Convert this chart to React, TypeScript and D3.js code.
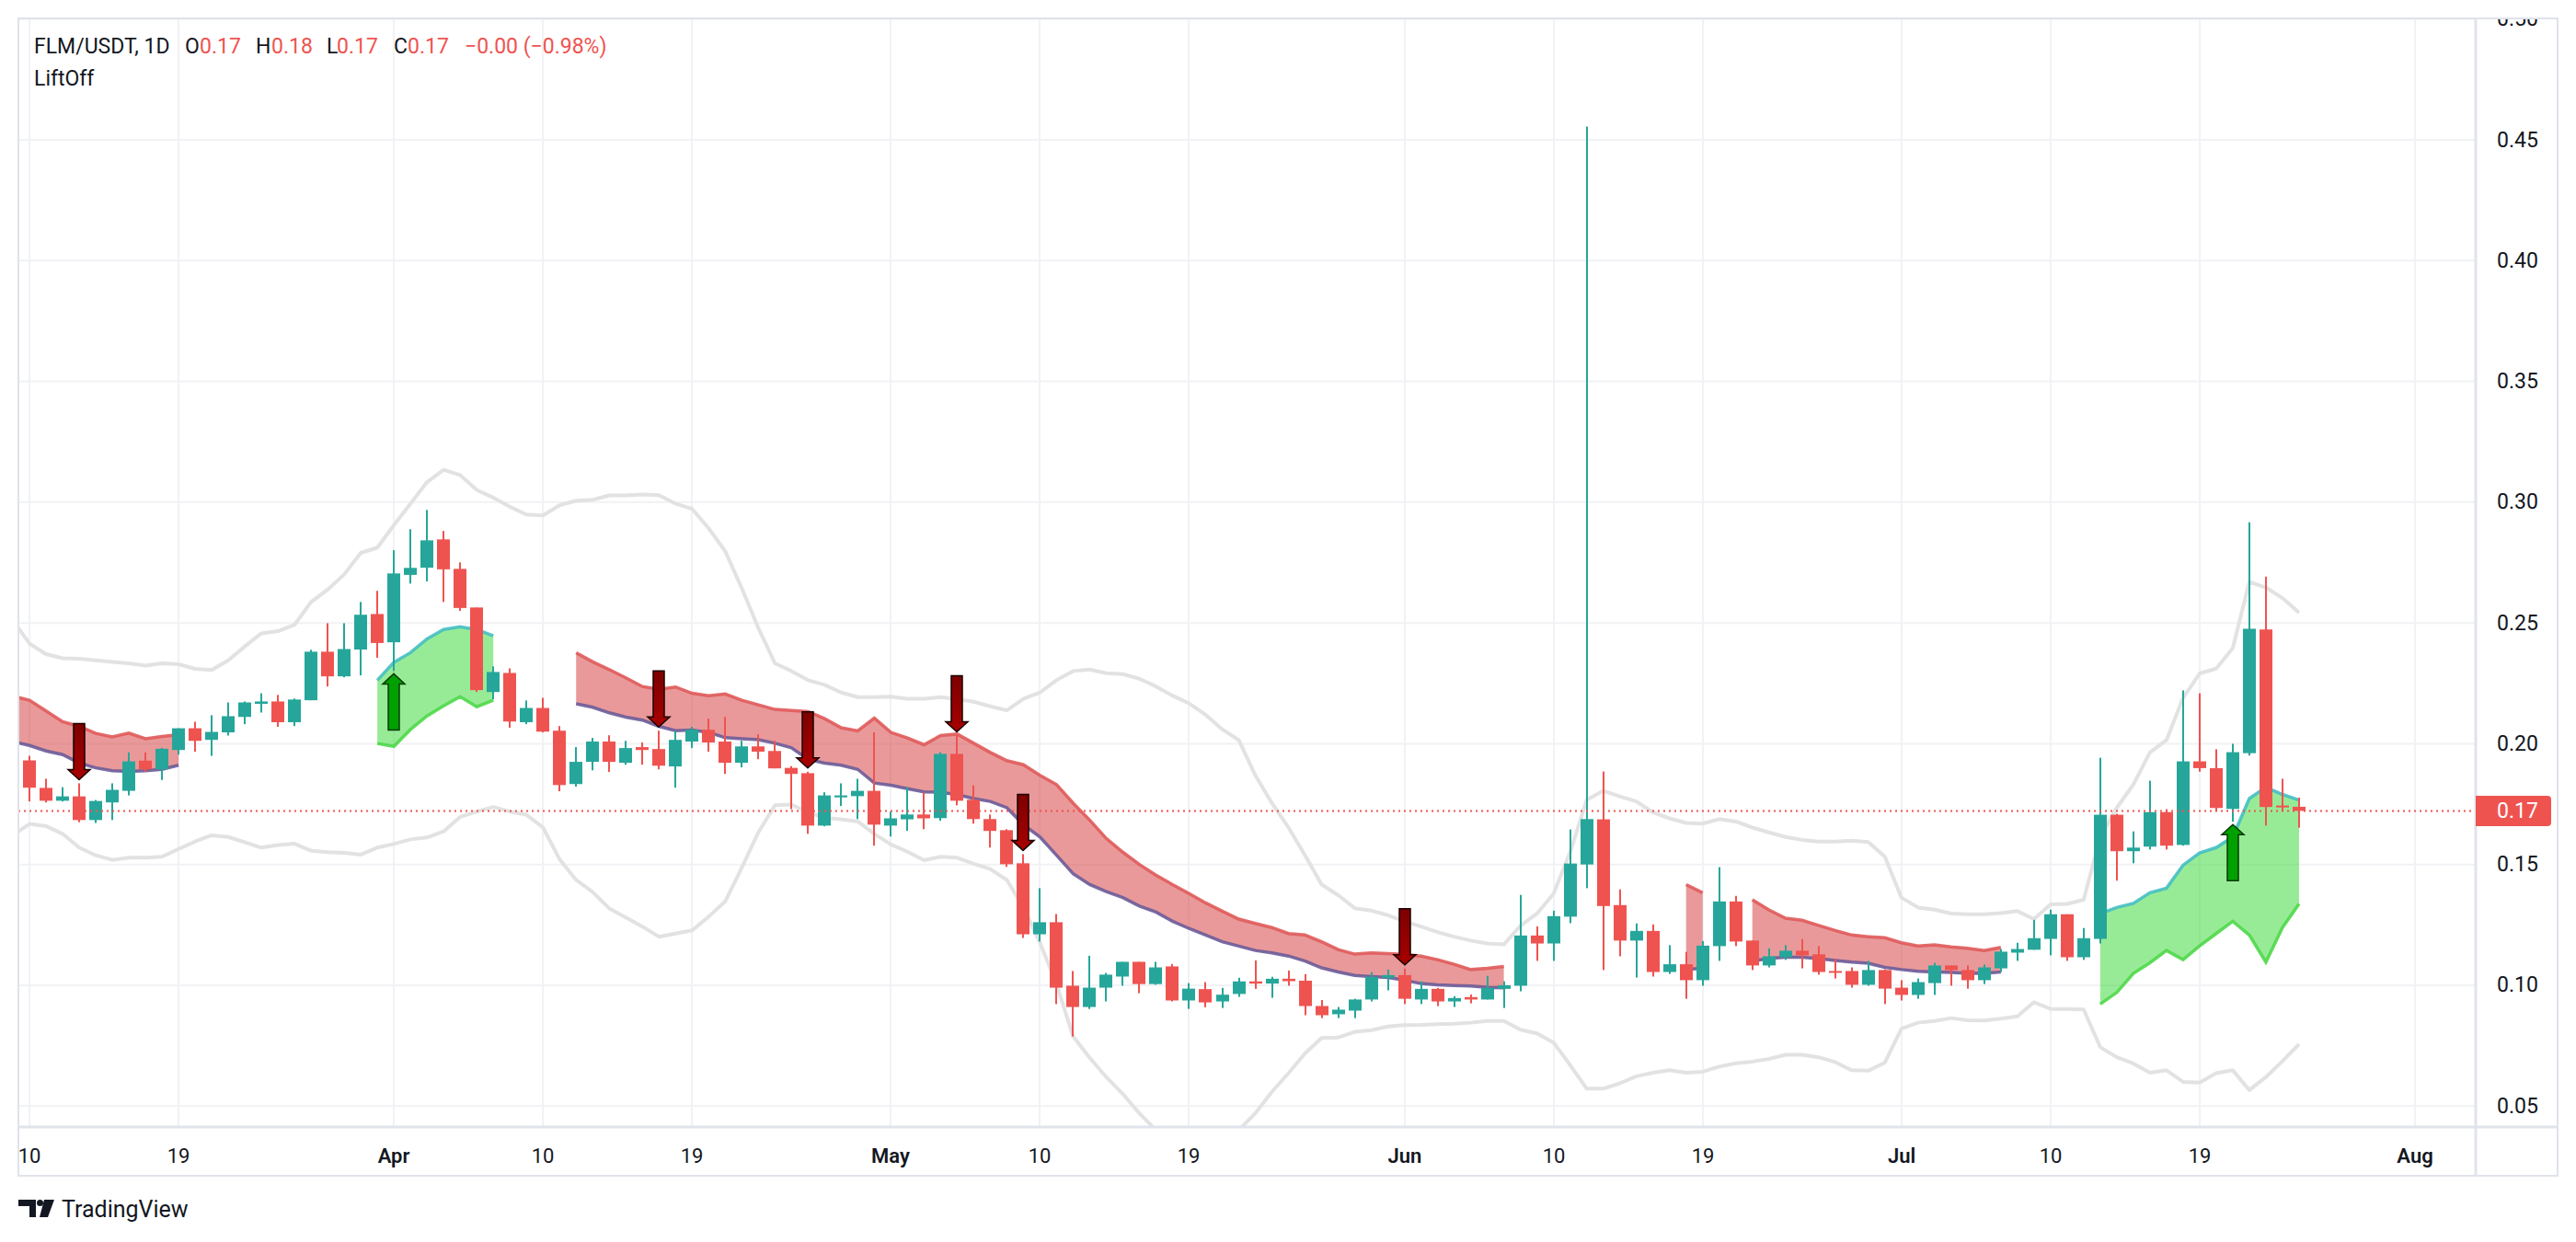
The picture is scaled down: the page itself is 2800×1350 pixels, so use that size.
import React, { useEffect, useRef } from 'react';
import * as d3 from 'd3';

// FLM/USDT daily candles, [open, high, low, close]
const marchCandles = [ // Mar 9 - Mar 31
  [0.1830, 0.1950, 0.1800, 0.1930], [0.1931, 0.1950, 0.1761, 0.1818], [0.1817, 0.1855, 0.1757, 0.1764],
  [0.1764, 0.1820, 0.1761, 0.1782], [0.1782, 0.1836, 0.1675, 0.1684], [0.1684, 0.1767, 0.1672, 0.1763],
  [0.1757, 0.1836, 0.1684, 0.1809], [0.1805, 0.1964, 0.1786, 0.1927], [0.1930, 0.1964, 0.1884, 0.1894],
  [0.1894, 0.1983, 0.1850, 0.1979], [0.1974, 0.2064, 0.1955, 0.2064], [0.2064, 0.2091, 0.1967, 0.2012],
  [0.2016, 0.2118, 0.1950, 0.2049], [0.2047, 0.2171, 0.2034, 0.2114], [0.2111, 0.2175, 0.2081, 0.2171],
  [0.2165, 0.2209, 0.2129, 0.2175], [0.2175, 0.2202, 0.2070, 0.2089], [0.2089, 0.2187, 0.2073, 0.2183],
  [0.2180, 0.2389, 0.2180, 0.2381], [0.2381, 0.2499, 0.2237, 0.2279], [0.2279, 0.2499, 0.2275, 0.2392],
  [0.2390, 0.2587, 0.2283, 0.2534], [0.2537, 0.2633, 0.2356, 0.2417],
];
const aprilCandles = [
  [0.2420, 0.2801, 0.2301, 0.2705], [0.2699, 0.2888, 0.2663, 0.2728], [0.2729, 0.2968, 0.2672, 0.2842],
  [0.2846, 0.2881, 0.2587, 0.2722], [0.2724, 0.2751, 0.2550, 0.2562], [0.2564, 0.2564, 0.2214, 0.2222],
  [0.2214, 0.2320, 0.2184, 0.2297], [0.2293, 0.2312, 0.2066, 0.2092], [0.2089, 0.2179, 0.2081, 0.2148],
  [0.2148, 0.2190, 0.2047, 0.2050], [0.2054, 0.2073, 0.1803, 0.1829], [0.1833, 0.1986, 0.1822, 0.1925],
  [0.1925, 0.2024, 0.1890, 0.2009], [0.2009, 0.2035, 0.1883, 0.1925], [0.1921, 0.2012, 0.1913, 0.1982],
  [0.1986, 0.2005, 0.1913, 0.1974], [0.1978, 0.2054, 0.1894, 0.1909], [0.1906, 0.2054, 0.1818, 0.2016],
  [0.2009, 0.2070, 0.1982, 0.2058], [0.2058, 0.2104, 0.1967, 0.2005], [0.2009, 0.2111, 0.1875, 0.1921],
  [0.1921, 0.2012, 0.1902, 0.1989], [0.1989, 0.2039, 0.1936, 0.1967], [0.1970, 0.2012, 0.1898, 0.1898],
  [0.1900, 0.1907, 0.1729, 0.1875], [0.1878, 0.1884, 0.1627, 0.1661], [0.1661, 0.1799, 0.1658, 0.1786],
  [0.1778, 0.1836, 0.1742, 0.1786], [0.1783, 0.1855, 0.1688, 0.1805], [0.1805, 0.2047, 0.1578, 0.1665],
];
const mayCandles = [
  [0.1661, 0.1719, 0.1616, 0.1691], [0.1687, 0.1820, 0.1639, 0.1707], [0.1707, 0.1797, 0.1646, 0.1691],
  [0.1692, 0.1965, 0.1681, 0.1958], [0.1958, 0.2034, 0.1745, 0.1764], [0.1768, 0.1828, 0.1669, 0.1688],
  [0.1688, 0.1707, 0.1570, 0.1639], [0.1642, 0.1646, 0.1490, 0.1501], [0.1505, 0.1543, 0.1196, 0.1211],
  [0.1211, 0.1402, 0.1181, 0.1261], [0.1261, 0.1295, 0.0922, 0.0990], [0.0998, 0.1059, 0.0788, 0.0910],
  [0.0910, 0.1122, 0.0902, 0.0990], [0.0990, 0.1051, 0.0933, 0.1044], [0.1036, 0.1097, 0.0998, 0.1097],
  [0.1097, 0.1097, 0.0967, 0.1005], [0.1005, 0.1097, 0.1002, 0.1074], [0.1078, 0.1088, 0.0933, 0.0937],
  [0.0937, 0.1009, 0.0902, 0.0986], [0.0984, 0.1013, 0.0909, 0.0929], [0.0933, 0.0989, 0.0906, 0.0961],
  [0.0964, 0.1031, 0.0952, 0.1016], [0.1016, 0.1103, 0.0985, 0.1007], [0.1007, 0.1035, 0.0948, 0.1027],
  [0.1027, 0.1061, 0.0998, 0.1017], [0.1019, 0.1046, 0.0876, 0.0914], [0.0914, 0.0939, 0.0864, 0.0876],
  [0.0880, 0.0910, 0.0864, 0.0899], [0.0895, 0.0944, 0.0864, 0.0941], [0.0941, 0.1054, 0.0933, 0.1035],
  [0.1031, 0.1065, 0.0979, 0.1042],
];
const juneCandles = [
  [0.1042, 0.1069, 0.0922, 0.0944], [0.0941, 0.1016, 0.0922, 0.0985], [0.0985, 0.0989, 0.0914, 0.0933],
  [0.0933, 0.0955, 0.0910, 0.0947], [0.0951, 0.0962, 0.0925, 0.0941], [0.0941, 0.1039, 0.0941, 0.0989],
  [0.0985, 0.1016, 0.0906, 0.1000], [0.0998, 0.1374, 0.0975, 0.1206], [0.1206, 0.1244, 0.1101, 0.1173],
  [0.1173, 0.1309, 0.1101, 0.1286], [0.1284, 0.1645, 0.1257, 0.1504], [0.1500, 0.4555, 0.1402, 0.1688],
  [0.1687, 0.1885, 0.1063, 0.1328], [0.1332, 0.1397, 0.1120, 0.1185], [0.1185, 0.1256, 0.1032, 0.1225],
  [0.1225, 0.1252, 0.1036, 0.1055], [0.1055, 0.1166, 0.1047, 0.1087], [0.1087, 0.1138, 0.0944, 0.1021],
  [0.1021, 0.1183, 0.0998, 0.1164], [0.1162, 0.1489, 0.1101, 0.1347], [0.1347, 0.1370, 0.1162, 0.1181],
  [0.1185, 0.1185, 0.1063, 0.1082], [0.1082, 0.1153, 0.1074, 0.1120], [0.1116, 0.1166, 0.1105, 0.1143],
  [0.1143, 0.1191, 0.1070, 0.1124], [0.1128, 0.1162, 0.1044, 0.1055], [0.1059, 0.1108, 0.1028, 0.1052],
  [0.1059, 0.1074, 0.0990, 0.1002], [0.1002, 0.1101, 0.0998, 0.1063], [0.1063, 0.1066, 0.0922, 0.0986],
];
const julyCandles = [ // Jul 1 - Jul 25
  [0.0990, 0.1021, 0.0937, 0.0960], [0.0960, 0.1028, 0.0944, 0.1013], [0.1009, 0.1093, 0.0960, 0.1082],
  [0.1082, 0.1082, 0.0998, 0.1063], [0.1063, 0.1082, 0.0986, 0.1021], [0.1021, 0.1086, 0.1005, 0.1074],
  [0.1070, 0.1150, 0.1055, 0.1139], [0.1135, 0.1176, 0.1101, 0.1150], [0.1147, 0.1271, 0.1147, 0.1195],
  [0.1192, 0.1313, 0.1124, 0.1294], [0.1294, 0.1294, 0.1101, 0.1116], [0.1116, 0.1237, 0.1105, 0.1195],
  [0.1192, 0.1942, 0.1173, 0.1706], [0.1706, 0.1710, 0.1433, 0.1555], [0.1555, 0.1637, 0.1505, 0.1570],
  [0.1574, 0.1847, 0.1562, 0.1717], [0.1717, 0.1729, 0.1562, 0.1578], [0.1581, 0.2221, 0.1578, 0.1927],
  [0.1927, 0.2209, 0.1884, 0.1899], [0.1899, 0.1977, 0.1722, 0.1734], [0.1730, 0.2000, 0.1677, 0.1965],
  [0.1961, 0.2917, 0.1951, 0.2476], [0.2473, 0.2692, 0.1661, 0.1738], [0.1744, 0.1855, 0.1722, 0.1739],
  [0.1739, 0.1777, 0.1652, 0.1722],
];

// Bollinger bands, [upper, lower], same days as the candles
const marchBands = [
  [0.2511, 0.1621], [0.2415, 0.1668], [0.2371, 0.1659], [0.2354, 0.1627], [0.2352, 0.1570], [0.2345, 0.1538],
  [0.2339, 0.1519], [0.2333, 0.1528], [0.2323, 0.1528], [0.2333, 0.1532], [0.2329, 0.1564], [0.2310, 0.1595],
  [0.2305, 0.1621], [0.2345, 0.1614], [0.2403, 0.1592], [0.2457, 0.1570], [0.2466, 0.1581], [0.2492, 0.1586],
  [0.2587, 0.1557], [0.2638, 0.1551], [0.2701, 0.1548], [0.2790, 0.1541], [0.2812, 0.1570],
];
const aprilBands = [
  [0.2905, 0.1585], [0.2994, 0.1604], [0.3083, 0.1612], [0.3134, 0.1637], [0.3112, 0.1697], [0.3051, 0.1719],
  [0.3019, 0.1738], [0.2981, 0.1719], [0.2949, 0.1706], [0.2945, 0.1653], [0.2987, 0.1522], [0.3006, 0.1436],
  [0.3010, 0.1386], [0.3028, 0.1318], [0.3028, 0.1281], [0.3032, 0.1243], [0.3029, 0.1201], [0.2994, 0.1214],
  [0.2972, 0.1227], [0.2892, 0.1284], [0.2797, 0.1347], [0.2644, 0.1487], [0.2479, 0.1633], [0.2333, 0.1745],
  [0.2301, 0.1748], [0.2263, 0.1716], [0.2244, 0.1693], [0.2212, 0.1687], [0.2193, 0.1678], [0.2193, 0.1627],
];
const mayBands = [
  [0.2195, 0.1583], [0.2186, 0.1553], [0.2186, 0.1518], [0.2193, 0.1532], [0.2184, 0.1528], [0.2174, 0.1503],
  [0.2155, 0.1481], [0.2138, 0.1436], [0.2186, 0.1322], [0.2212, 0.1176], [0.2263, 0.1004], [0.2301, 0.0788],
  [0.2307, 0.0700], [0.2292, 0.0620], [0.2288, 0.0550], [0.2269, 0.0470], [0.2237, 0.0400], [0.2199, 0.0340],
  [0.2167, 0.0300], [0.2120, 0.0300], [0.2060, 0.0340], [0.2015, 0.0400], [0.1869, 0.0470], [0.1754, 0.0559],
  [0.1653, 0.0636], [0.1538, 0.0718], [0.1417, 0.0782], [0.1373, 0.0784], [0.1319, 0.0807], [0.1309, 0.0814],
  [0.1290, 0.0829],
];
const juneBands = [
  [0.1265, 0.0835], [0.1243, 0.0836], [0.1220, 0.0839], [0.1201, 0.0841], [0.1185, 0.0845], [0.1173, 0.0852],
  [0.1169, 0.0852], [0.1246, 0.0816], [0.1297, 0.0801], [0.1379, 0.0763], [0.1551, 0.0670], [0.1767, 0.0572],
  [0.1805, 0.0572], [0.1782, 0.0594], [0.1761, 0.0623], [0.1716, 0.0638], [0.1691, 0.0648], [0.1672, 0.0638],
  [0.1669, 0.0642], [0.1688, 0.0663], [0.1678, 0.0677], [0.1653, 0.0684], [0.1633, 0.0695], [0.1614, 0.0712],
  [0.1602, 0.0712], [0.1595, 0.0702], [0.1595, 0.0682], [0.1599, 0.0648], [0.1593, 0.0646], [0.1532, 0.0680],
];
const julyBands = [
  [0.1363, 0.0820], [0.1322, 0.0845], [0.1313, 0.0852], [0.1297, 0.0864], [0.1294, 0.0855], [0.1294, 0.0854],
  [0.1299, 0.0862], [0.1307, 0.0871], [0.1274, 0.0930], [0.1335, 0.0902], [0.1337, 0.0902], [0.1354, 0.0900],
  [0.1614, 0.0744], [0.1735, 0.0702], [0.1831, 0.0676], [0.1964, 0.0638], [0.2015, 0.0648], [0.2190, 0.0600],
  [0.2291, 0.0597], [0.2311, 0.0636], [0.2396, 0.0648], [0.2670, 0.0566], [0.2647, 0.0620], [0.2603, 0.0686],
  [0.2542, 0.0756],
];

// LiftOff cloud pieces (top line / bottom line), one value per day from `start`
const cloudSegments = [
  {
    start: '2023-03-09', side: 'bear',
    top: [0.2197, 0.2180, 0.2136, 0.2091, 0.2072, 0.2043, 0.2028, 0.2044, 0.2021, 0.2030, 0.2038],
    bottom: [0.2009, 0.1993, 0.1970, 0.1955, 0.1920, 0.1900, 0.1888, 0.1885, 0.1888, 0.1894, 0.1911],
  },
  {
    start: '2023-03-31', side: 'bull',
    top: [0.2263, 0.2337, 0.2377, 0.2434, 0.2473, 0.2484, 0.2473, 0.2447],
    bottom: [0.2001, 0.1989, 0.2059, 0.2115, 0.2157, 0.2195, 0.2153, 0.2180],
  },
  {
    start: '2023-04-12', side: 'bear',
    top: [
      0.2377, 0.2339, 0.2307, 0.2273, 0.2237, 0.2225, 0.2235, 0.2209, 0.2199, 0.2206, 0.2180, 0.2161, 0.2142,
      0.2138, 0.2133, 0.2104, 0.2066, 0.2053, 0.2106,
      0.2047, 0.2024, 0.1996, 0.2034, 0.2040, 0.2002, 0.1964, 0.1930, 0.1913, 0.1869, 0.1831, 0.1754, 0.1684,
      0.1608, 0.1551, 0.1500, 0.1456, 0.1417, 0.1380, 0.1341, 0.1307, 0.1274, 0.1256, 0.1239, 0.1214, 0.1208,
      0.1180, 0.1148, 0.1129, 0.1134, 0.1131,
      0.1128, 0.1121, 0.1106, 0.1087, 0.1065, 0.1070, 0.1078,
    ],
    bottom: [
      0.2165, 0.2151, 0.2128, 0.2110, 0.2098, 0.2072, 0.2054, 0.2057, 0.2047, 0.2025, 0.2021, 0.2017, 0.2002,
      0.1983, 0.1935, 0.1920, 0.1911, 0.1894, 0.1837,
      0.1828, 0.1814, 0.1801, 0.1799, 0.1789, 0.1773, 0.1761, 0.1735, 0.1665, 0.1614, 0.1538, 0.1462, 0.1417,
      0.1388, 0.1363, 0.1328, 0.1303, 0.1265, 0.1235, 0.1208, 0.1180, 0.1162, 0.1144, 0.1134, 0.1121, 0.1100,
      0.1072, 0.1055, 0.1041, 0.1036, 0.1032,
      0.1021, 0.1007, 0.1002, 0.0999, 0.0997, 0.0991, 0.0989,
    ],
  },
  {
    start: '2023-06-18', side: 'bear',
    top: [0.1417, 0.1383],
    bottom: [0.1065, 0.1070],
  },
  {
    start: '2023-06-22', side: 'bear',
    top: [0.1354, 0.1312, 0.1278, 0.1269, 0.1248, 0.1227, 0.1208, 0.1201, 0.1197, 0.1176, 0.1163, 0.1167, 0.1159, 0.1153, 0.1144, 0.1157],
    bottom: [0.1100, 0.1111, 0.1116, 0.1116, 0.1110, 0.1103, 0.1096, 0.1091, 0.1074, 0.1065, 0.1058, 0.1055, 0.1053, 0.1049, 0.1049, 0.1055],
  },
  {
    start: '2023-07-13', side: 'bull',
    top: [0.1297, 0.1322, 0.1339, 0.1383, 0.1402, 0.1497, 0.1548, 0.1570, 0.1614, 0.1773, 0.1820, 0.1790, 0.1767],
    bottom: [0.0922, 0.0970, 0.1049, 0.1093, 0.1144, 0.1106, 0.1163, 0.1214, 0.1265, 0.1208, 0.1096, 0.1239, 0.1337],
  },
];

const sellSignals = ['2023-03-13', '2023-04-17', '2023-04-26', '2023-05-05', '2023-05-09', '2023-06-01'];
const buySignals = ['2023-04-01', '2023-07-21'];

const priceTicks = [0.05, 0.10, 0.15, 0.20, 0.25, 0.30, 0.35, 0.40, 0.45, 0.50];
const timeTicks = [
  ['2023-03-10', '10'], ['2023-03-19', '19'], ['2023-04-01', 'Apr'], ['2023-04-10', '10'], ['2023-04-19', '19'],
  ['2023-05-01', 'May'], ['2023-05-10', '10'], ['2023-05-19', '19'], ['2023-06-01', 'Jun'], ['2023-06-10', '10'],
  ['2023-06-19', '19'], ['2023-07-01', 'Jul'], ['2023-07-10', '10'], ['2023-07-19', '19'], ['2023-08-01', 'Aug'],
];

const FIRST_DAY = '2023-03-09';
const UP = '#26a69a';
const DOWN = '#ef5350';
const INK = '#131722';
const FONT = 'Roboto, "Liberation Sans", sans-serif';

const App = () => {
  const svgRef = useRef<SVGSVGElement>(null);

  useEffect(() => {
    const parseDay = d3.utcParse('%Y-%m-%d');
    const day0 = parseDay(FIRST_DAY) as Date;

    const candles = [...marchCandles, ...aprilCandles, ...mayCandles, ...juneCandles, ...julyCandles]
      .map(([o, h, l, c], i) => ({ date: d3.utcDay.offset(day0, i), o, h, l, c }));
    const bands = [...marchBands, ...aprilBands, ...mayBands, ...juneBands, ...julyBands]
      .map(([u, l], i) => ({ date: d3.utcDay.offset(day0, i), u, l }));

    const width = 2800;
    const height = 1350;
    const pane = { left: 20, top: 20, right: 2691, bottom: 1225 };
    const frameRight = 2780;
    const frameBottom = 1278;

    const svg = d3.select(svgRef.current);
    svg.selectAll('*').remove();
    svg.attr('width', width).attr('height', height);

    svg.append('rect').attr('width', width).attr('height', height).attr('fill', '#ffffff');

    const x = d3.scaleUtc()
      .domain([parseDay('2023-03-10') as Date, parseDay('2023-08-01') as Date])
      .range([32, 2625]);
    const y = d3.scaleLinear().domain([0.05, 0.5]).range([1202.2, 20.8]);
    const cx = (d: Date) => Math.round(x(d));

    const defs = svg.append('defs');
    defs.append('clipPath').attr('id', 'pane-clip')
      .append('rect')
      .attr('x', pane.left).attr('y', pane.top)
      .attr('width', pane.right - pane.left).attr('height', pane.bottom - pane.top);
    defs.append('clipPath').attr('id', 'price-clip')
      .append('rect')
      .attr('x', pane.right).attr('y', pane.top + 1)
      .attr('width', frameRight - pane.right).attr('height', pane.bottom - pane.top);
    const sellGrad = defs.append('linearGradient').attr('id', 'sell-grad')
      .attr('x1', 0).attr('x2', 0).attr('y1', 0).attr('y2', 1);
    sellGrad.append('stop').attr('offset', '0%').attr('stop-color', '#7d0000');
    sellGrad.append('stop').attr('offset', '100%').attr('stop-color', '#a80000');

    // grid
    const grid = svg.append('g');
    grid.selectAll('.hgrid').data(priceTicks).enter().append('line')
      .attr('x1', pane.left).attr('x2', pane.right)
      .attr('y1', d => y(d)).attr('y2', d => y(d))
      .attr('stroke', '#f1f2f5').attr('stroke-width', 2);
    grid.selectAll('.vgrid').data(timeTicks).enter().append('line')
      .attr('x1', d => cx(parseDay(d[0]) as Date)).attr('x2', d => cx(parseDay(d[0]) as Date))
      .attr('y1', pane.top).attr('y2', pane.bottom)
      .attr('stroke', '#f1f2f5').attr('stroke-width', 2);

    const plot = svg.append('g').attr('clip-path', 'url(#pane-clip)');

    // Bollinger bands
    const bandLine = (key: 'u' | 'l') => d3.line<any>()
      .x(d => x(d.date))
      .y(d => y(d[key]));
    ['u', 'l'].forEach(key => {
      plot.append('path')
        .datum(bands)
        .attr('fill', 'none')
        .attr('stroke', '#e2e2e2')
        .attr('stroke-width', 4)
        .attr('stroke-linejoin', 'round')
        .attr('d', bandLine(key as 'u' | 'l'));
    });

    // LiftOff cloud
    cloudSegments.forEach(seg => {
      const start = parseDay(seg.start) as Date;
      const pts = seg.top.map((t, i) => ({ date: d3.utcDay.offset(start, i), t, b: seg.bottom[i] }));
      const bull = seg.side === 'bull';
      const area = d3.area<any>().x(d => x(d.date)).y0(d => y(d.b)).y1(d => y(d.t));
      plot.append('path').datum(pts)
        .attr('fill', bull ? 'rgba(50, 215, 45, 0.5)' : 'rgba(212, 52, 52, 0.5)')
        .attr('d', area);
      const topLine = d3.line<any>().x(d => x(d.date)).y(d => y(d.t));
      const botLine = d3.line<any>().x(d => x(d.date)).y(d => y(d.b));
      plot.append('path').datum(pts)
        .attr('fill', 'none')
        .attr('stroke', bull ? '#45bfc2' : '#e05a5a')
        .attr('stroke-opacity', 0.9)
        .attr('stroke-width', 3.5)
        .attr('d', topLine);
      plot.append('path').datum(pts)
        .attr('fill', 'none')
        .attr('stroke', bull ? '#4fd84a' : '#6c5b98')
        .attr('stroke-opacity', 0.9)
        .attr('stroke-width', 3.5)
        .attr('d', botLine);
    });

    // candles
    const candleG = plot.selectAll('.candle').data(candles).enter().append('g');
    candleG.append('rect')
      .attr('x', d => cx(d.date) - 1)
      .attr('width', 2)
      .attr('y', d => y(d.h))
      .attr('height', d => Math.max(1, y(d.l) - y(d.h)))
      .attr('fill', d => (d.c >= d.o ? UP : DOWN));
    candleG.append('rect')
      .attr('x', d => cx(d.date) - 7)
      .attr('width', 14)
      .attr('y', d => y(Math.max(d.o, d.c)))
      .attr('height', d => Math.max(2, Math.abs(y(d.o) - y(d.c))))
      .attr('fill', d => (d.c >= d.o ? UP : DOWN));

    // last price line
    const last = candles[candles.length - 1];
    const prev = candles[candles.length - 2];
    plot.append('line')
      .attr('x1', pane.left).attr('x2', pane.right)
      .attr('y1', y(last.c)).attr('y2', y(last.c))
      .attr('stroke', DOWN).attr('stroke-width', 2)
      .attr('stroke-dasharray', '2,4');

    // signal arrows
    const byDay = new Map(candles.map(d => [d3.utcFormat('%Y-%m-%d')(d.date), d]));
    const arrowLen = 61;
    const headLen = 11;
    sellSignals.forEach(s => {
      const d = byDay.get(s);
      if (!d) return;
      const ax = cx(d.date);
      const tip = y(d.h) - 4;
      const neck = tip - headLen;
      const top = tip - arrowLen;
      plot.append('path')
        .attr('d', `M${ax - 6},${top} H${ax + 6} V${neck} H${ax + 12} L${ax},${tip} L${ax - 12},${neck} H${ax - 6} Z`)
        .attr('fill', 'url(#sell-grad)')
        .attr('stroke', '#1a0000')
        .attr('stroke-width', 1.5);
    });
    buySignals.forEach(s => {
      const d = byDay.get(s);
      if (!d) return;
      const ax = cx(d.date);
      const tip = y(d.l) + 3;
      const neck = tip + headLen;
      const bottom = tip + arrowLen;
      plot.append('path')
        .attr('d', `M${ax - 6},${bottom} H${ax + 6} V${neck} H${ax + 12} L${ax},${tip} L${ax - 12},${neck} H${ax - 6} Z`)
        .attr('fill', '#00a000')
        .attr('stroke', '#0b3a0b')
        .attr('stroke-width', 1.5);
    });

    // frame and axis separators
    const frame = svg.append('g').attr('fill', 'none').attr('stroke', '#e0e3eb');
    frame.append('rect')
      .attr('x', pane.left).attr('y', pane.top)
      .attr('width', frameRight - pane.left).attr('height', frameBottom - pane.top)
      .attr('stroke-width', 2);
    frame.append('line')
      .attr('x1', pane.left).attr('x2', frameRight)
      .attr('y1', pane.bottom).attr('y2', pane.bottom)
      .attr('stroke-width', 3);
    frame.append('line')
      .attr('x1', pane.right).attr('x2', pane.right)
      .attr('y1', pane.top).attr('y2', frameBottom)
      .attr('stroke-width', 3);

    // price axis
    const priceAxis = svg.append('g').attr('clip-path', 'url(#price-clip)');
    priceAxis.selectAll('text').data(priceTicks).enter().append('text')
      .attr('x', 2714)
      .attr('y', d => y(d))
      .attr('dominant-baseline', 'central')
      .attr('font-family', FONT)
      .attr('font-size', 23)
      .attr('fill', INK)
      .text(d => d3.format('.2f')(d));

    const tagY = y(last.c);
    priceAxis.append('path')
      .attr('d', `M${pane.right},${tagY - 16.5} H${2769} Q${2773},${tagY - 16.5} ${2773},${tagY - 12.5} V${tagY + 12.5} Q${2773},${tagY + 16.5} ${2769},${tagY + 16.5} H${pane.right} Z`)
      .attr('fill', DOWN);
    priceAxis.append('text')
      .attr('x', 2714)
      .attr('y', tagY)
      .attr('dominant-baseline', 'central')
      .attr('font-family', FONT)
      .attr('font-size', 23)
      .attr('fill', '#ffffff')
      .text(d3.format('.2f')(last.c));

    // time axis
    svg.append('g').selectAll('text').data(timeTicks).enter().append('text')
      .attr('x', d => cx(parseDay(d[0]) as Date))
      .attr('y', 1264)
      .attr('text-anchor', 'middle')
      .attr('font-family', FONT)
      .attr('font-size', 22)
      .attr('font-weight', d => (/^\d/.test(d[1]) ? 400 : 600))
      .attr('fill', INK)
      .text(d => d[1]);

    // legend
    const fmt = d3.format('.2f');
    const change = last.c - prev.c;
    const pct = (change / prev.c) * 100;
    const minus = (v: number, f: (n: number) => string) => (v < 0 ? '\u2212' + f(-v) : f(v));
    const legend = svg.append('text')
      .attr('y', 58)
      .attr('font-family', FONT)
      .attr('font-size', 23);
    const parts: [number, string, string][] = [
      [37, 'FLM/USDT, 1D', INK],
      [201, 'O', INK], [217, fmt(last.o), DOWN],
      [278, 'H', INK], [295, fmt(last.h), DOWN],
      [355, 'L', INK], [366, fmt(last.l), DOWN],
      [428, 'C', INK], [443, fmt(last.c), DOWN],
      [505, `${minus(change, fmt)} (${minus(pct, fmt)}%)`, DOWN],
    ];
    parts.forEach(([px, txt, col]) => {
      legend.append('tspan').attr('x', px).attr('fill', col).text(txt);
    });
    svg.append('text')
      .attr('x', 37).attr('y', 93)
      .attr('font-family', FONT)
      .attr('font-size', 23)
      .attr('fill', INK)
      .text('LiftOff');

    // TradingView mark
    const logo = svg.append('g').attr('fill', INK);
    logo.append('path').attr('d', 'M20,1304 H39 V1323 H32 V1311 H20 Z');
    logo.append('circle').attr('cx', 43.5).attr('cy', 1307.5).attr('r', 3.5);
    logo.append('path').attr('d', 'M48,1304 H59 L52,1323 H43 Z');
    svg.append('text')
      .attr('x', 67).attr('y', 1323)
      .attr('font-family', FONT)
      .attr('font-size', 25)
      .attr('fill', INK)
      .text('TradingView');
  }, []);

  return (
    <div style={{ position: 'absolute', left: 0, top: 0, background: '#fff' }}>
      <svg ref={svgRef} style={{ display: 'block' }} />
    </div>
  );
};

export default App;
